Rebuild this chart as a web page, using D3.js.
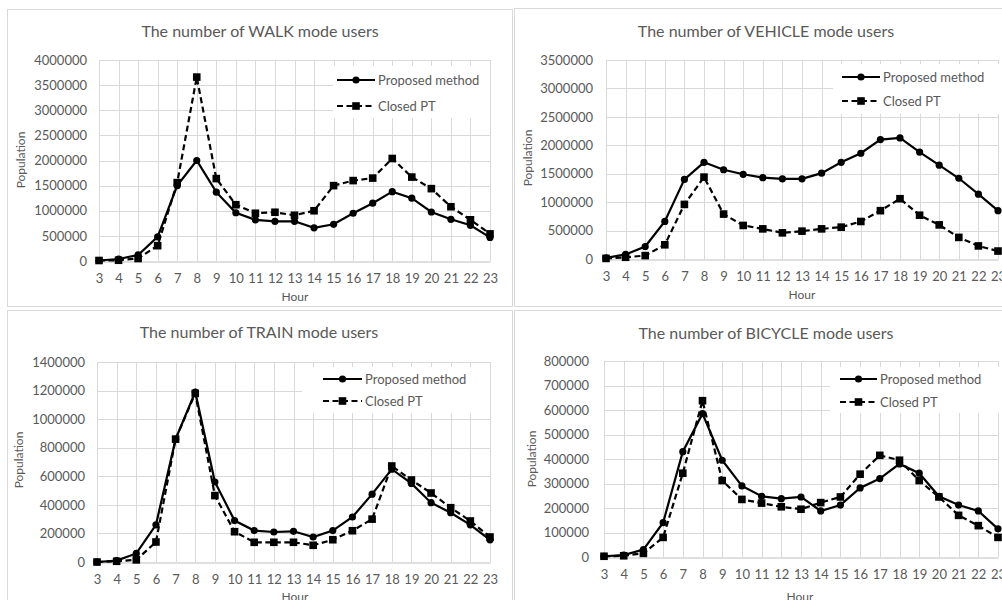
<!DOCTYPE html>
<html>
<head>
<meta charset="utf-8">
<script src="https://cdn.jsdelivr.net/npm/d3@7"></script>
<style>
  html, body { margin: 0; padding: 0; background: #fff; }
  svg { display: block; font-family: Lato, "Open Sans", sans-serif; }
</style>
</head>
<body>
<svg id="chart" width="1002" height="600"></svg>
<script>
// Hours of the day on the x axis
const hours = [3, 4, 5, 6, 7, 8, 9, 10, 11, 12, 13, 14, 15, 16, 17, 18, 19, 20, 21, 22, 23];

// WALK mode users
const walkProposed = [10000, 40000, 120000, 480000, 1500000, 2000000, 1370000, 960000, 820000, 790000, 790000, 660000, 730000, 950000, 1150000, 1380000, 1250000, 975000, 830000, 710000, 470000];
const walkClosed   = [10000, 15000, 50000, 305000, 1560000, 3660000, 1640000, 1120000, 950000, 970000, 910000, 1000000, 1500000, 1600000, 1650000, 2040000, 1670000, 1440000, 1080000, 820000, 540000];
const walkTicks    = [0, 500000, 1000000, 1500000, 2000000, 2500000, 3000000, 3500000, 4000000];

// VEHICLE mode users
const vehicleProposed = [20000, 80000, 220000, 660000, 1400000, 1700000, 1570000, 1490000, 1430000, 1410000, 1410000, 1510000, 1700000, 1860000, 2100000, 2130000, 1880000, 1650000, 1420000, 1140000, 850000];
const vehicleClosed   = [10000, 30000, 60000, 250000, 960000, 1440000, 790000, 590000, 530000, 460000, 490000, 530000, 560000, 660000, 850000, 1060000, 770000, 600000, 380000, 230000, 140000];
const vehicleTicks    = [0, 500000, 1000000, 1500000, 2000000, 2500000, 3000000, 3500000];

// TRAIN mode users
const trainProposed = [0, 10000, 60000, 260000, 860000, 1190000, 560000, 290000, 220000, 210000, 215000, 175000, 220000, 315000, 475000, 650000, 550000, 415000, 345000, 260000, 155000];
const trainClosed   = [0, 5000, 15000, 140000, 860000, 1180000, 465000, 212000, 138000, 138000, 138000, 117000, 156000, 219000, 300000, 672000, 574000, 483000, 380000, 287000, 175000];
const trainTicks    = [0, 200000, 400000, 600000, 800000, 1000000, 1200000, 1400000];

// BICYCLE mode users
const bicycleProposed = [3000, 8000, 30000, 140000, 430000, 585000, 395000, 290000, 248000, 238000, 245000, 188000, 212000, 282000, 320000, 380000, 342000, 248000, 212000, 188000, 115000];
const bicycleClosed   = [3000, 5000, 15000, 80000, 342000, 638000, 312000, 235000, 220000, 205000, 195000, 222000, 245000, 338000, 415000, 395000, 312000, 245000, 170000, 128000, 80000];
const bicycleTicks    = [0, 100000, 200000, 300000, 400000, 500000, 600000, 700000, 800000];

const seriesNames = ["Proposed method", "Closed PT"];

const textColor = "#595959";
const gridColor = "#d9d9d9";

const panels = [
  {
    title: "The number of WALK mode users",
    proposed: walkProposed, closed: walkClosed, ticks: walkTicks,
    frame: { x: 7, y: 9, w: 505, h: 297 },
    plot: { left: 99, right: 490, top: 60, bottom: 261 },
    yLabelRight: 87, titleX: 260, titleY: 37,
    popX: 21, popY: 160, hourX: 295, hourY: 301,
    legend: { box: [333, 66, 157, 52], x1: 337, x2: 375, tx: 378, y1: 80, y2: 106 }
  },
  {
    title: "The number of VEHICLE mode users",
    proposed: vehicleProposed, closed: vehicleClosed, ticks: vehicleTicks,
    frame: { x: 514, y: 8, w: 500, h: 298 },
    plot: { left: 606, right: 998, top: 60, bottom: 259 },
    yLabelRight: 593, titleX: 766, titleY: 37,
    popX: 528, popY: 158, hourX: 802, hourY: 299,
    legend: { box: [833, 64, 169, 50], x1: 842, x2: 880, tx: 883, y1: 77, y2: 101 }
  },
  {
    title: "The number of TRAIN mode users",
    proposed: trainProposed, closed: trainClosed, ticks: trainTicks,
    frame: { x: 7, y: 310, w: 505, h: 300 },
    plot: { left: 97, right: 490, top: 362, bottom: 562 },
    yLabelRight: 85, titleX: 259, titleY: 338,
    popX: 19, popY: 460, hourX: 295, hourY: 601,
    legend: { box: [302, 367, 188, 46], x1: 323, x2: 362, tx: 365, y1: 379, y2: 401 }
  },
  {
    title: "The number of BICYCLE mode users",
    proposed: bicycleProposed, closed: bicycleClosed, ticks: bicycleTicks,
    frame: { x: 514, y: 310, w: 500, h: 300 },
    plot: { left: 604, right: 998, top: 361, bottom: 557 },
    yLabelRight: 589, titleX: 766, titleY: 339,
    popX: 532, popY: 459, hourX: 800, hourY: 601,
    legend: { box: [830, 367, 172, 46], x1: 840, x2: 877, tx: 880, y1: 379, y2: 402 }
  }
];

const svg = d3.select("#chart");

panels.forEach(p => {
  const g = svg.append("g");

  // chart frame
  g.append("rect")
    .attr("x", p.frame.x + 0.5).attr("y", p.frame.y + 0.5)
    .attr("width", p.frame.w).attr("height", p.frame.h)
    .attr("fill", "#fff").attr("stroke", gridColor);

  const x = d3.scalePoint().domain(hours).range([p.plot.left, p.plot.right]);
  const yMax = p.ticks[p.ticks.length - 1];
  const y = d3.scaleLinear().domain([0, yMax]).range([p.plot.bottom, p.plot.top]);

  // horizontal gridlines
  g.append("g").selectAll("line").data(p.ticks.filter(t => t > 0)).join("line")
    .attr("x1", p.plot.left).attr("x2", p.plot.right)
    .attr("y1", d => Math.round(y(d)) + 0.5).attr("y2", d => Math.round(y(d)) + 0.5)
    .attr("stroke", gridColor).attr("stroke-width", 1);

  // vertical gridlines
  g.append("g").selectAll("line").data(hours).join("line")
    .attr("x1", d => Math.round(x(d)) + 0.5).attr("x2", d => Math.round(x(d)) + 0.5)
    .attr("y1", p.plot.top).attr("y2", p.plot.bottom)
    .attr("stroke", gridColor).attr("stroke-width", 1);

  // y axis tick labels
  const yAxis = d3.axisLeft(y).tickValues(p.ticks).tickSize(0).tickPadding(0).tickFormat(d3.format("d"));
  const ya = g.append("g").attr("transform", `translate(${p.yLabelRight},0)`).call(yAxis);
  ya.select(".domain").remove();
  ya.selectAll("text").attr("fill", textColor).attr("font-size", 13).attr("font-family", "Lato, sans-serif");

  // x axis line and labels
  const xAxis = d3.axisBottom(x).tickSize(0).tickPadding(12);
  const xa = g.append("g").attr("transform", `translate(0,${Math.round(p.plot.bottom) + 0.5})`).call(xAxis);
  xa.select(".domain").attr("stroke", "#bfbfbf").attr("stroke-width", 1);
  xa.selectAll("text").attr("fill", textColor).attr("font-size", 13).attr("font-family", "Lato, sans-serif");

  // title
  g.append("text").attr("x", p.titleX).attr("y", p.titleY)
    .attr("text-anchor", "middle").attr("fill", textColor).attr("font-size", 16)
    .text(p.title);

  // axis titles
  g.append("text")
    .attr("transform", `translate(${p.popX},${p.popY}) rotate(-90)`)
    .attr("text-anchor", "middle").attr("dy", "0.35em")
    .attr("fill", textColor).attr("font-size", 12).text("Population");
  g.append("text").attr("x", p.hourX).attr("y", p.hourY)
    .attr("text-anchor", "middle").attr("fill", textColor).attr("font-size", 12).text("Hour");

  const line = d3.line().x((d, i) => x(hours[i])).y(d => y(d));

  // Closed PT: dashed line with square markers
  g.append("path").datum(p.closed).attr("d", line)
    .attr("fill", "none").attr("stroke", "#000").attr("stroke-width", 2.2)
    .attr("stroke-dasharray", "6,3.5");
  g.append("g").selectAll("rect").data(p.closed).join("rect")
    .attr("x", (d, i) => x(hours[i]) - 3.8).attr("y", d => y(d) - 3.8)
    .attr("width", 7.6).attr("height", 7.6).attr("fill", "#000");

  // Proposed method: solid line with circle markers
  g.append("path").datum(p.proposed).attr("d", line)
    .attr("fill", "none").attr("stroke", "#000").attr("stroke-width", 2.2);
  g.append("g").selectAll("circle").data(p.proposed).join("circle")
    .attr("cx", (d, i) => x(hours[i])).attr("cy", d => y(d))
    .attr("r", 3.6).attr("fill", "#000");

  // legend
  const L = p.legend;
  const lg = g.append("g");
  lg.append("rect").attr("x", L.box[0]).attr("y", L.box[1])
    .attr("width", L.box[2]).attr("height", L.box[3]).attr("fill", "#fff");
  const mid = (L.x1 + L.x2) / 2;
  lg.append("line").attr("x1", L.x1).attr("x2", L.x2).attr("y1", L.y1).attr("y2", L.y1)
    .attr("stroke", "#000").attr("stroke-width", 2.2);
  lg.append("circle").attr("cx", mid).attr("cy", L.y1).attr("r", 3.6).attr("fill", "#000");
  lg.append("line").attr("x1", L.x1).attr("x2", L.x2).attr("y1", L.y2).attr("y2", L.y2)
    .attr("stroke", "#000").attr("stroke-width", 2.2).attr("stroke-dasharray", "6,3.5");
  lg.append("rect").attr("x", mid - 3.8).attr("y", L.y2 - 3.8).attr("width", 7.6).attr("height", 7.6).attr("fill", "#000");
  lg.append("text").attr("x", L.tx).attr("y", L.y1).attr("dy", "0.35em")
    .attr("fill", textColor).attr("font-size", 13).text(seriesNames[0]);
  lg.append("text").attr("x", L.tx).attr("y", L.y2).attr("dy", "0.35em")
    .attr("fill", textColor).attr("font-size", 13).text(seriesNames[1]);
});
</script>
</body>
</html>
